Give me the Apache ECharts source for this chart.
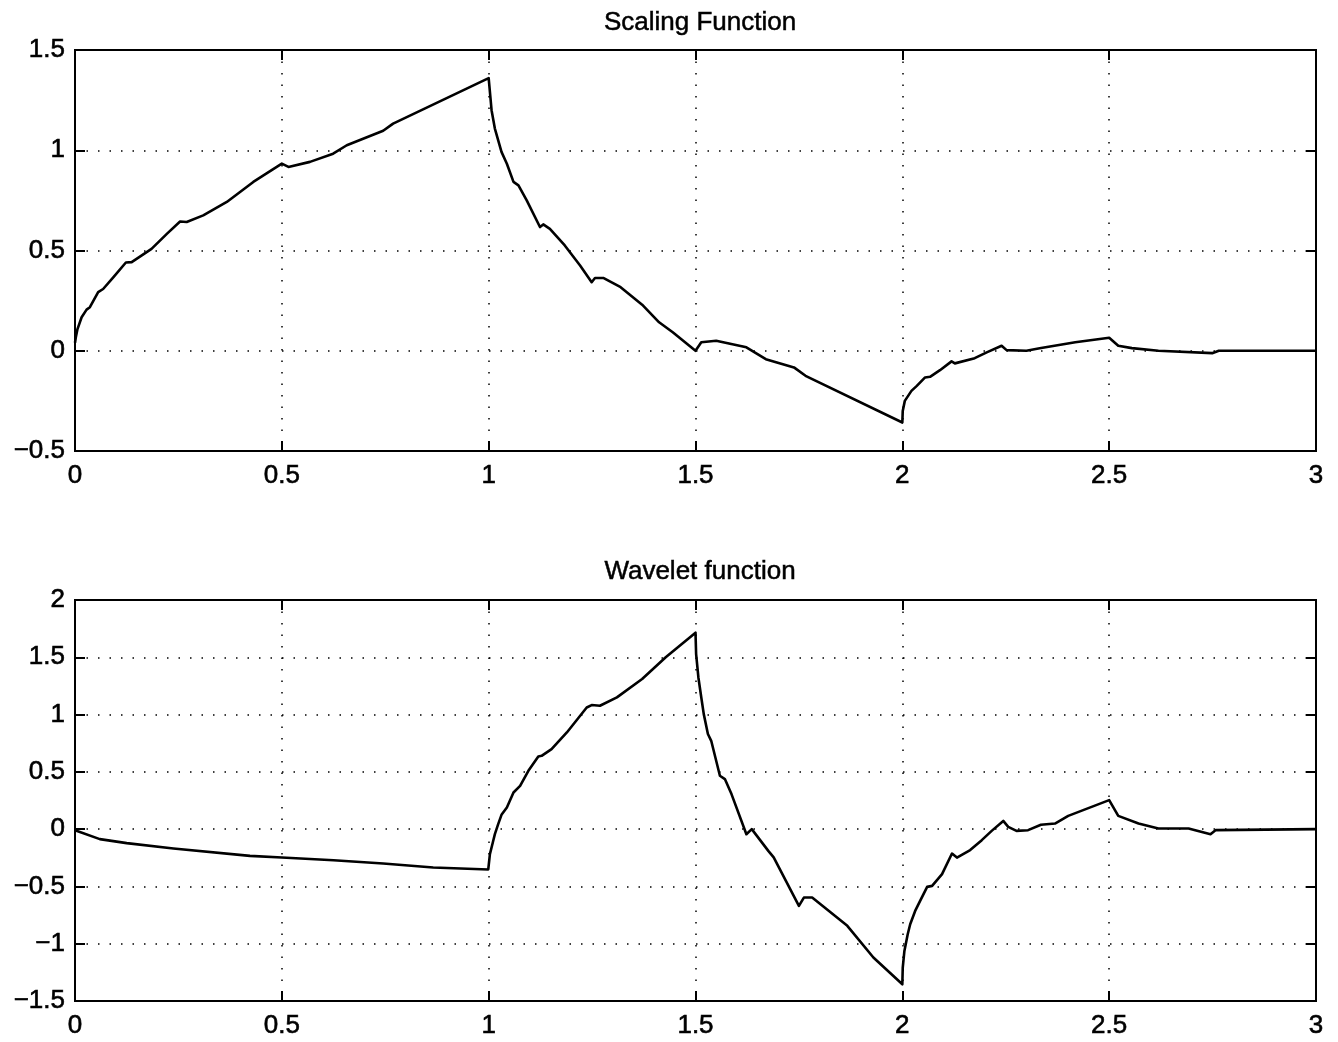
<!DOCTYPE html>
<html>
<head>
<meta charset="utf-8">
<script src="https://cdn.jsdelivr.net/npm/echarts@6/dist/echarts.min.js"></script>
<style>html,body{margin:0;padding:0;background:#fff}#c{width:1338px;height:1042px}</style>
</head>
<body>
<div id="c"></div>
<script>
const xTicks = [0, 0.5, 1, 1.5, 2, 2.5, 3];
const titles = ['Scaling Function', 'Wavelet function'];

const scalingX = [0, 0.002, 0.006, 0.016, 0.028, 0.036, 0.056, 0.068, 0.093, 0.123, 0.137, 0.185, 0.222, 0.254, 0.27, 0.31, 0.367, 0.431, 0.5, 0.516, 0.568, 0.624, 0.657, 0.745, 0.769, 1.0, 1.007, 1.015, 1.031, 1.044, 1.06, 1.072, 1.092, 1.124, 1.132, 1.148, 1.184, 1.221, 1.249, 1.257, 1.277, 1.319, 1.371, 1.412, 1.445, 1.5, 1.514, 1.55, 1.623, 1.67, 1.738, 1.766, 2.0, 2.001, 2.006, 2.022, 2.035, 2.055, 2.067, 2.091, 2.119, 2.127, 2.175, 2.204, 2.24, 2.252, 2.3, 2.332, 2.418, 2.5, 2.522, 2.555, 2.619, 2.749, 2.765, 3.0];
const scalingY = [0.04, 0.067, 0.108, 0.167, 0.205, 0.217, 0.292, 0.308, 0.367, 0.44, 0.442, 0.508, 0.583, 0.645, 0.642, 0.675, 0.742, 0.842, 0.933, 0.917, 0.942, 0.983, 1.025, 1.097, 1.133, 1.36, 1.2, 1.108, 0.992, 0.933, 0.842, 0.825, 0.75, 0.617, 0.63, 0.608, 0.525, 0.425, 0.342, 0.363, 0.363, 0.317, 0.23, 0.142, 0.092, 0.0, 0.042, 0.05, 0.017, -0.042, -0.083, -0.125, -0.358, -0.3, -0.25, -0.2, -0.175, -0.133, -0.13, -0.097, -0.053, -0.063, -0.037, -0.008, 0.025, 0.003, 0.0, 0.012, 0.042, 0.065, 0.025, 0.013, 0.0, -0.012, 0.0, 0.0];

const waveletX = [0, 0.06, 0.125, 0.238, 0.423, 0.5, 0.625, 0.745, 0.866, 0.999, 1.003, 1.01, 1.015, 1.023, 1.031, 1.044, 1.06, 1.076, 1.096, 1.12, 1.128, 1.152, 1.189, 1.237, 1.249, 1.269, 1.31, 1.371, 1.428, 1.5, 1.5015, 1.507, 1.514, 1.52, 1.53, 1.538, 1.559, 1.571, 1.587, 1.623, 1.636, 1.676, 1.689, 1.75, 1.762, 1.782, 1.867, 1.93, 2.0, 2.001, 2.005, 2.013, 2.019, 2.031, 2.043, 2.06, 2.072, 2.096, 2.12, 2.132, 2.164, 2.192, 2.216, 2.244, 2.256, 2.276, 2.304, 2.335, 2.369, 2.401, 2.5, 2.522, 2.571, 2.619, 2.692, 2.745, 2.757, 3.0];
const waveletY = [-0.01, -0.087, -0.122, -0.169, -0.233, -0.247, -0.271, -0.3, -0.335, -0.352, -0.218, -0.117, -0.044, 0.044, 0.125, 0.189, 0.32, 0.378, 0.509, 0.634, 0.64, 0.699, 0.844, 1.062, 1.083, 1.077, 1.15, 1.31, 1.5, 1.715, 1.528, 1.324, 1.149, 1.004, 0.83, 0.771, 0.466, 0.437, 0.306, -0.044, 0.0, -0.19, -0.247, -0.67, -0.597, -0.597, -0.844, -1.12, -1.354, -1.209, -1.063, -0.917, -0.83, -0.714, -0.626, -0.504, -0.495, -0.393, -0.213, -0.248, -0.183, -0.096, -0.015, 0.072, 0.02, -0.015, -0.009, 0.038, 0.049, 0.116, 0.253, 0.116, 0.049, 0.006, 0.006, -0.044, -0.009, 0.0];

const yRanges = [[-0.5, 1.5], [-1.5, 2]];

const font = 'Liberation Sans, Arial, Helvetica, sans-serif';
const grids = [
  {left: 75, right: 22, top: 50, height: 401, show: true, borderColor: '#000', borderWidth: 2},
  {left: 75, right: 22, top: 600, height: 401, show: true, borderColor: '#000', borderWidth: 2}
];
const dotted = {color: '#000', width: 1.5, type: [1.5, 10]};
const txt = {color: '#000', fontSize: 26, fontFamily: font, textBorderColor: '#000', textBorderWidth: 0.6};
function xAx(g, pos) {
  const main = pos === 'bottom';
  return {
    type: 'value', gridIndex: g, position: pos, min: xTicks[0], max: xTicks[xTicks.length - 1], interval: 0.5,
    axisLine: {show: true, onZero: false, lineStyle: {color: '#000', width: 2}},
    axisTick: {show: true, inside: true, length: 10, lineStyle: {color: '#000', width: 2}},
    axisLabel: Object.assign({show: main, margin: 12}, txt),
    splitLine: {show: main, lineStyle: dotted}
  };
}
function yAx(g, pos) {
  const main = pos === 'left';
  return {
    type: 'value', gridIndex: g, position: pos, min: yRanges[g][0], max: yRanges[g][1], interval: 0.5,
    axisLine: {show: true, onZero: false, lineStyle: {color: '#000', width: 2}},
    axisTick: {show: true, inside: true, length: 10, lineStyle: {color: '#000', width: 2}},
    axisLabel: Object.assign({show: main, margin: 10, formatter: v => String(v).replace('-', '\u2212')}, txt),
    splitLine: {show: main, lineStyle: dotted}
  };
}
const zip = (xs, ys) => xs.map((x, i) => [x, ys[i]]);
const chart = echarts.init(document.getElementById('c'), null, {renderer: 'canvas'});
const titleStyle = {fontSize: 26, fontWeight: 'normal', color: '#000', fontFamily: font, textBorderColor: '#000', textBorderWidth: 0.5};
chart.setOption({
  animation: false,
  backgroundColor: '#fff',
  title: [
    {text: titles[0], left: 695, top: 5, textAlign: 'center', textStyle: titleStyle},
    {text: titles[1], left: 695, top: 554, textAlign: 'center', textStyle: titleStyle}
  ],
  grid: grids,
  xAxis: [xAx(0, 'bottom'), xAx(0, 'top'), xAx(1, 'bottom'), xAx(1, 'top')],
  yAxis: [yAx(0, 'left'), yAx(0, 'right'), yAx(1, 'left'), yAx(1, 'right')],
  series: [
    {type: 'line', xAxisIndex: 0, yAxisIndex: 0, data: zip(scalingX, scalingY), showSymbol: false,
      lineStyle: {color: '#000', width: 2.6, join: 'round'}},
    {type: 'line', xAxisIndex: 2, yAxisIndex: 2, data: zip(waveletX, waveletY), showSymbol: false,
      lineStyle: {color: '#000', width: 2.6, join: 'round'}}
  ]
});
</script>
</body>
</html>
